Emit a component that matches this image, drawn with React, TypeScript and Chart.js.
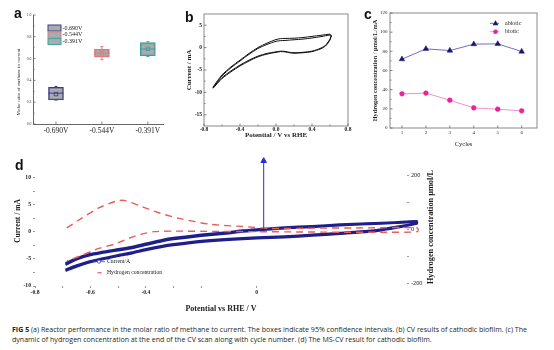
import React, { useEffect, useRef } from 'react';
import { Chart, registerables } from 'chart.js';
Chart.register(...registerables);

const SERIF = '"Liberation Serif", "Times New Roman", serif';

// ---------- Panel a data ----------
const aCategories = ['-0.690V', '-0.544V', '-0.391V'];
const aBoxLow = [0.22, 0.613, 0.624];
const aBoxHigh = [0.337, 0.685, 0.746];
const aMedian = [0.283, 0.65, 0.688];
const aMean = [0.275, 0.65, 0.69];
const aWhiskerLow = [0.22, 0.59, 0.62];
const aWhiskerHigh = [0.345, 0.71, 0.755];
const aYTicks = [0, 0.2, 0.4, 0.6, 0.8, 1.0];
const aColors = ['#3b3b8e', '#e47878', '#36a3a0'];

// ---------- Panel b data (two CV cycles, forward and reverse scans) ----------
const bForwardPotential = [-0.7, -0.65, -0.6, -0.5, -0.4, -0.3, -0.2, -0.1, 0.0, 0.05, 0.1, 0.2, 0.3, 0.4, 0.5, 0.6, 0.615];
const bForwardCurrent1 = [-8.8, -7.4, -6.1, -4.3, -2.8, -1.3, 0.0, 1.0, 1.8, 2.0, 2.05, 2.1, 2.25, 2.5, 2.75, 3.0, 2.8];
const bForwardCurrent2 = [-9.0, -7.6, -6.3, -4.5, -3.0, -1.5, -0.2, 0.7, 1.4, 1.55, 1.6, 1.75, 1.9, 2.15, 2.45, 2.8, 2.6];
const bReversePotential = [0.615, 0.6, 0.57, 0.55, 0.5, 0.45, 0.4, 0.3, 0.2, 0.15, 0.1, 0.05, 0.0, -0.1, -0.2, -0.3, -0.4, -0.5, -0.6, -0.7];
const bReverseCurrent1 = [2.8, 1.9, 1.0, 0.5, -0.1, -0.5, -0.8, -1.05, -1.15, -1.05, -0.85, -0.8, -0.95, -1.3, -1.9, -2.8, -3.9, -5.2, -6.7, -8.9];
const bReverseCurrent2 = [2.6, 1.7, 0.8, 0.35, -0.25, -0.6, -0.9, -1.15, -1.25, -1.15, -0.95, -0.9, -1.05, -1.45, -2.05, -3.0, -4.1, -5.4, -6.9, -9.1];
const bXTicks = [-0.8, -0.4, 0, 0.4, 0.8];
const bYTicks = [-15, -10, -5, 0, 5];

// ---------- Panel c data ----------
const cCycles = [1, 2, 3, 4, 5, 6];
const cAbiotic = [71.8, 82.6, 80.8, 87.5, 87.8, 79.8];
const cBiotic = [35.7, 36.4, 29.0, 21.0, 19.6, 17.9];
const cYTicks = [0, 20, 40, 60, 80, 100, 120];

// ---------- Panel d data ----------
const dCurrentPotential = [-0.69, -0.65, -0.6, -0.5, -0.45, -0.4, -0.34, -0.3, -0.2, -0.1, -0.05, 0.0, 0.1, 0.2, 0.3, 0.4, 0.5, 0.577,
  0.577, 0.5, 0.45, 0.4, 0.3, 0.2, 0.1, 0.0, -0.1, -0.2, -0.3, -0.34, -0.4, -0.45, -0.5, -0.6, -0.65, -0.69];
const dCurrent1 = [-5.8, -4.9, -4.1, -3.2, -2.8, -2.2, -1.5, -1.15, -0.55, -0.05, 0.25, 0.45, 0.8, 1.05, 1.35, 1.55, 1.75, 1.95,
  1.6, 0.9, 0.45, 0.15, -0.2, -0.55, -0.85, -1.05, -1.3, -1.7, -2.3, -2.6, -3.2, -3.8, -4.3, -5.4, -6.2, -7.0];
const dCurrent2 = [-6.1, -5.1, -4.3, -3.4, -3.0, -2.4, -1.7, -1.35, -0.75, -0.25, 0.05, 0.3, 0.65, 0.9, 1.2, 1.45, 1.65, 1.85,
  1.5, 0.75, 0.3, 0.0, -0.35, -0.7, -1.0, -1.2, -1.45, -1.85, -2.45, -2.75, -3.35, -3.95, -4.45, -5.6, -6.4, -7.2];
const dH2Potential = [-0.685, -0.63, -0.57, -0.51, -0.48, -0.42, -0.36, -0.28, -0.165, -0.05, 0.05, 0.2, 0.4, 0.58,
  0.58, 0.45, 0.3, 0.15, 0.0, -0.15, -0.3, -0.37, -0.42, -0.45, -0.51, -0.57, -0.63, -0.685];
const dH2Conc = [6, 43, 80, 104, 108, 87, 64, 41, 19, 11, 4, 5, 6, 6,
  -8, -10, -10, -9, -8, -7, -6, -8, -18, -28, -53, -70, -95, -116];
const dArrowPotential = [0.025, 0.025];
const dArrowCurrent = [0.55, 13.1];
const dXTicks = [-0.8, -0.7, -0.6, -0.5, -0.4, -0.3, -0.2, 0];
const dXLabeled = [-0.8, -0.6, -0.4, 0];
const dYTicks = [-10, -7.5, -5, -2.5, 0, 2.5, 5, 7.5, 10];
const dY2Ticks = [-200, -100, 0, 100, 200];
const dY2Labeled = [-200, 0, 200];

// ---------- helper plugins ----------
function textPlugin(id: string, items: any[]) {
  return {
    id,
    afterDraw(chart: any) {
      const ctx = chart.ctx;
      items.forEach((t) => {
        ctx.save();
        ctx.translate(t.x, t.y);
        if (t.rot) ctx.rotate(t.rot);
        ctx.font = t.font;
        ctx.fillStyle = t.color || '#1a1a1a';
        ctx.textAlign = t.align || 'center';
        ctx.textBaseline = 'middle';
        ctx.fillText(t.text, 0, 0);
        ctx.restore();
      });
    },
  };
}

function innerTicks(axes: any[], color = '#666') {
  return {
    id: 'innerTicks',
    afterDraw(chart: any) {
      const { ctx, chartArea: a } = chart;
      ctx.save();
      ctx.strokeStyle = color;
      ctx.lineWidth = 0.8;
      axes.forEach((cfg) => {
        const s = chart.scales[cfg.id];
        const vals = s.ticks.map((t: any) => t.value);
        const marks: number[][] = [];
        vals.forEach((v: number, i: number) => {
          marks.push([v, cfg.len]);
          if (cfg.minor && i < vals.length - 1) marks.push([(v + vals[i + 1]) / 2, cfg.len * 0.6]);
        });
        marks.forEach(([v, len]) => {
          const p = s.getPixelForValue(v);
          ctx.beginPath();
          if (s.isHorizontal()) {
            ctx.moveTo(p, a.bottom);
            ctx.lineTo(p, a.bottom - len);
          } else {
            ctx.moveTo(a.left, p);
            ctx.lineTo(a.left + len, p);
          }
          ctx.stroke();
        });
      });
      ctx.restore();
    },
  };
}

function frame(color: string) {
  return {
    id: 'frame',
    afterDraw(chart: any) {
      const { ctx, chartArea: a } = chart;
      ctx.save();
      ctx.strokeStyle = color;
      ctx.lineWidth = 1;
      ctx.strokeRect(a.left, a.top, a.right - a.left, a.bottom - a.top);
      ctx.restore();
    },
  };
}

const noGrid = { drawOnChartArea: false, drawTicks: false, offset: false };

// ---------- Panel a ----------
function configA(): any {
  const extras = {
    id: 'boxExtras',
    afterDatasetsDraw(chart: any) {
      const { ctx, scales } = chart;
      const x = scales.x, y = scales.y;
      ctx.save();
      aCategories.forEach((_, i) => {
        const cx = x.getPixelForValue(i);
        const half = 7.5;
        ctx.strokeStyle = aColors[i];
        ctx.lineWidth = 1;
        const ym = y.getPixelForValue(aMedian[i]);
        ctx.beginPath();
        ctx.moveTo(cx - half, ym);
        ctx.lineTo(cx + half, ym);
        ctx.stroke();
        const yh = y.getPixelForValue(aBoxHigh[i]);
        const ywh = y.getPixelForValue(aWhiskerHigh[i]);
        const yl = y.getPixelForValue(aBoxLow[i]);
        const ywl = y.getPixelForValue(aWhiskerLow[i]);
        ctx.beginPath();
        ctx.moveTo(cx, yh); ctx.lineTo(cx, ywh);
        ctx.moveTo(cx - 1.5, ywh); ctx.lineTo(cx + 1.5, ywh);
        ctx.moveTo(cx, yl); ctx.lineTo(cx, ywl);
        ctx.moveTo(cx - 1.5, ywl); ctx.lineTo(cx + 1.5, ywl);
        ctx.stroke();
        const yme = y.getPixelForValue(aMean[i]);
        ctx.lineWidth = 0.8;
        ctx.strokeRect(cx - 1.8, yme - 1.8, 3.6, 3.6);
      });
      ctx.restore();
    },
  };
  const legend = {
    id: 'aLegend',
    afterDraw(chart: any) {
      const { ctx, chartArea: a } = chart;
      ctx.save();
      aCategories.forEach((c, i) => {
        const x = a.left + 15, y = a.top + 10 + i * 6.8;
        ctx.fillStyle = 'rgba(150,150,150,0.8)';
        ctx.fillRect(x, y, 13, 6);
        ctx.strokeStyle = aColors[i];
        ctx.lineWidth = 1;
        ctx.strokeRect(x, y, 13, 6);
        ctx.font = `6px ${SERIF}`;
        ctx.fillStyle = '#222';
        ctx.textAlign = 'left';
        ctx.textBaseline = 'middle';
        ctx.fillText(c, x + 14.5, y + 3);
      });
      ctx.restore();
    },
  };
  return {
    type: 'bar',
    data: {
      datasets: [{
        data: aCategories.map((_, i) => ({ x: i, y: [aBoxLow[i], aBoxHigh[i]] })),
        backgroundColor: 'rgba(150,150,150,0.8)',
        borderColor: aColors,
        borderWidth: 1.2,
        borderSkipped: false,
        barThickness: 15,
      }],
    },
    options: {
      animation: false,
      responsive: false,
      layout: { padding: { top: 10, right: 12, bottom: 0, left: 0 } },
      plugins: { legend: { display: false }, tooltip: { enabled: false } },
      scales: {
        x: {
          type: 'linear', offset: false, min: -0.5, max: 2.33,
          afterBuildTicks: (s: any) => { s.ticks = aCategories.map((_, i) => ({ value: i })); },
          afterFit: (s: any) => { s.height = 31; },
          ticks: { callback: (v: any) => aCategories[Math.round(v)], font: { family: SERIF, size: 7.5 }, color: '#222', padding: 3, maxRotation: 0, autoSkip: false },
          grid: noGrid,
          border: { display: true, color: '#666', width: 1 },
        },
        y: {
          min: 0, max: 1,
          afterBuildTicks: (s: any) => { s.ticks = aYTicks.map((v) => ({ value: v })); },
          afterFit: (s: any) => { s.width = 33; },
          ticks: { callback: (v: any) => Number(v).toFixed(1), font: { family: SERIF, size: 3.8 }, color: '#333', padding: 1.5 },
          grid: noGrid,
          border: { display: true, color: '#666', width: 1 },
        },
      },
    },
    plugins: [
      extras, legend,
      innerTicks([{ id: 'x', len: 2.5 }, { id: 'y', len: 2.5, minor: true }]),
      textPlugin('aTitle', [{ text: 'Molar ratio of methane to current', x: 19, y: 77, rot: -Math.PI / 2, font: `5px ${SERIF}` }]),
    ],
  };
}

// ---------- Panel b ----------
function configB(): any {
  const scans = [
    [bForwardPotential, bForwardCurrent1],
    [bForwardPotential, bForwardCurrent2],
    [bReversePotential, bReverseCurrent1],
    [bReversePotential, bReverseCurrent2],
  ];
  return {
    type: 'scatter',
    data: {
      datasets: scans.map(([pv, cur]) => ({
        data: pv.map((v, i) => ({ x: v, y: cur[i] })),
        showLine: true, borderColor: '#111', borderWidth: 1, pointRadius: 0, tension: 0.25,
      })),
    },
    options: {
      animation: false,
      responsive: false,
      layout: { padding: { top: 10, right: 10, bottom: 0, left: 0 } },
      plugins: { legend: { display: false }, tooltip: { enabled: false } },
      scales: {
        x: {
          min: -0.8, max: 0.8,
          afterBuildTicks: (s: any) => { s.ticks = bXTicks.map((v) => ({ value: v })); },
          afterFit: (s: any) => { s.height = 23; },
          ticks: { callback: (v: any) => Number(v).toFixed(1), font: { family: SERIF, size: 5.5, weight: 'bold' }, color: '#222', padding: 0.5, maxRotation: 0, autoSkip: false },
          grid: noGrid, border: { display: false },
          title: { display: true, text: 'Potential / V vs RHE', font: { family: SERIF, size: 7, weight: 'bold' }, color: '#222', padding: { top: 0, bottom: 9.3 } },
        },
        y: {
          min: -17.5, max: 7.5,
          afterBuildTicks: (s: any) => { s.ticks = bYTicks.map((v) => ({ value: v })); },
          afterFit: (s: any) => { s.width = 24; },
          ticks: { font: { family: SERIF, size: 5.5, weight: 'bold' }, color: '#222', padding: 2 },
          grid: noGrid, border: { display: false },
          title: { display: true, text: 'Current / mA', font: { family: SERIF, size: 7, weight: 'bold' }, color: '#222', padding: { top: 4.8, bottom: 0 } },
        },
      },
    },
    plugins: [frame('#8a8a8a'), innerTicks([{ id: 'x', len: 2.5, minor: true }, { id: 'y', len: 2.5, minor: true }])],
  };
}

// ---------- Panel c ----------
function configC(): any {
  const legend = {
    id: 'cLegend',
    afterDraw(chart: any) {
      const { ctx, chartArea: a } = chart;
      ctx.save();
      const rows = [
        { label: 'abiotic', line: '#6f6fbd', fill: '#17176e', tri: true, dy: 10.3 },
        { label: 'biotic', line: '#f290c8', fill: '#e8239c', tri: false, dy: 18.7 },
      ];
      rows.forEach((r) => {
        const y = a.top + r.dy;
        const x0 = a.left + 100;
        ctx.strokeStyle = r.line; ctx.lineWidth = 1;
        ctx.beginPath(); ctx.moveTo(x0, y); ctx.lineTo(x0 + 9, y); ctx.stroke();
        ctx.fillStyle = r.fill;
        ctx.beginPath();
        const mx = x0 + 5.5;
        if (r.tri) { ctx.moveTo(mx, y - 3); ctx.lineTo(mx + 2.8, y + 2); ctx.lineTo(mx - 2.8, y + 2); ctx.closePath(); }
        else { ctx.arc(mx, y, 2.3, 0, Math.PI * 2); }
        ctx.fill();
        ctx.font = `6px ${SERIF}`;
        ctx.fillStyle = '#222';
        ctx.textAlign = 'left'; ctx.textBaseline = 'middle';
        ctx.fillText(r.label, x0 + 15, y);
      });
      ctx.restore();
    },
  };
  return {
    type: 'scatter',
    data: {
      datasets: [
        {
          data: cCycles.map((c, i) => ({ x: c, y: cAbiotic[i] })), showLine: true,
          borderColor: '#6f6fbd', borderWidth: 1, pointStyle: 'triangle', pointRadius: 3.2,
          pointBackgroundColor: '#17176e', pointBorderColor: '#17176e', pointBorderWidth: 0.5,
        },
        {
          data: cCycles.map((c, i) => ({ x: c, y: cBiotic[i] })), showLine: true,
          borderColor: '#f290c8', borderWidth: 1, pointStyle: 'circle', pointRadius: 2.4,
          pointBackgroundColor: '#e8239c', pointBorderColor: '#e8239c', pointBorderWidth: 0.5,
        },
      ],
    },
    options: {
      animation: false,
      responsive: false,
      layout: { padding: { top: 10, right: 12, bottom: 0, left: 0 } },
      plugins: { legend: { display: false }, tooltip: { enabled: false } },
      scales: {
        x: {
          min: 0.5, max: 6.64,
          afterBuildTicks: (s: any) => { s.ticks = cCycles.map((v) => ({ value: v })); },
          afterFit: (s: any) => { s.height = 27; },
          ticks: { font: { family: SERIF, size: 5 }, color: '#222', padding: 1.5, maxRotation: 0, autoSkip: false },
          grid: noGrid, border: { display: false },
          title: { display: true, text: 'Cycles', font: { family: SERIF, size: 6.5 }, color: '#222', padding: { top: 0, bottom: 7.1 } },
        },
        y: {
          min: 0, max: 120,
          afterBuildTicks: (s: any) => { s.ticks = cYTicks.map((v) => ({ value: v })); },
          afterFit: (s: any) => { s.width = 28; },
          ticks: { font: { family: SERIF, size: 5 }, color: '#222', padding: 2.5 },
          grid: noGrid, border: { display: false },
          title: { display: true, text: 'Hydrogen concentration / μmol/L/mA', font: { family: SERIF, size: 6.3, weight: 'bold' }, color: '#222', padding: { top: 9.2, bottom: 0 } },
        },
      },
    },
    plugins: [legend, frame('#8a8a8a'), innerTicks([{ id: 'x', len: 2.5 }, { id: 'y', len: 2.5, minor: true }])],
  };
}

// ---------- Panel d ----------
function configD(): any {
  const legend = {
    id: 'dLegend',
    afterDraw(chart: any) {
      const ctx = chart.ctx;
      ctx.save();
      const y1 = 111.7, y2 = 122.7;
      ctx.strokeStyle = '#4a4ab0'; ctx.lineWidth = 0.8;
      ctx.beginPath(); ctx.moveTo(93, y1); ctx.lineTo(105, y1); ctx.stroke();
      ctx.beginPath(); ctx.arc(99, y1, 1.6, 0, Math.PI * 2); ctx.fillStyle = '#fff'; ctx.fill(); ctx.stroke();
      ctx.strokeStyle = '#e85c5c'; ctx.lineWidth = 1.2;
      ctx.beginPath(); ctx.moveTo(97.5, y2); ctx.lineTo(101.5, y2); ctx.stroke();
      ctx.font = `5.7px ${SERIF}`;
      ctx.fillStyle = '#222';
      ctx.textAlign = 'left'; ctx.textBaseline = 'middle';
      ctx.fillText('Current/A', 107, y1);
      ctx.fillText('Hydrogen concentration', 107, y2);
      ctx.restore();
    },
  };
  const tickGrid = { drawOnChartArea: false, drawTicks: true, tickLength: 2, color: '#999', offset: false };
  return {
    type: 'scatter',
    data: {
      datasets: [
        {
          data: dArrowPotential.map((v, i) => ({ x: v, y: dArrowCurrent[i] })), showLine: true,
          borderColor: '#2b2bd6', borderWidth: 1, pointRadius: [0, 3.2], pointStyle: 'triangle',
          pointBackgroundColor: '#2b2bd6', pointBorderColor: '#2b2bd6', clip: false, yAxisID: 'y',
        },
        {
          data: dH2Potential.map((v, i) => ({ x: v, y: dH2Conc[i] })), showLine: true,
          borderColor: '#e85c5c', borderWidth: 1.4, borderDash: [7, 5], pointRadius: 0, tension: 0.25,
          clip: false, yAxisID: 'y2',
        },
        ...[dCurrent1, dCurrent2].map((arr) => ({
          data: dCurrentPotential.map((v, i) => ({ x: v, y: arr[i] })), showLine: true,
          borderColor: '#1f1f8c', borderWidth: 2.4, pointRadius: 0, tension: 0.2, clip: false, yAxisID: 'y',
        })),
      ],
    },
    options: {
      animation: false,
      responsive: false,
      layout: { padding: { top: 6, right: 0, bottom: 0, left: 0 } },
      plugins: { legend: { display: false }, tooltip: { enabled: false } },
      scales: {
        x: {
          min: -0.8, max: 0.542,
          afterBuildTicks: (s: any) => { s.ticks = dXTicks.map((v) => ({ value: v })); },
          afterFit: (s: any) => { s.height = 34; },
          ticks: {
            callback: (v: any) => (dXLabeled.includes(v) ? (v === 0 ? '0' : Number(v).toFixed(1)) : ''),
            font: { family: SERIF, size: 5.7, weight: 'bold' }, color: '#222', padding: 1, maxRotation: 0, autoSkip: false,
          },
          grid: tickGrid, border: { display: false },
          title: { display: true, text: 'Potential vs RHE / V', font: { family: SERIF, size: 8, weight: 'bold' }, color: '#222', padding: { top: 0, bottom: 6.2 } },
        },
        y: {
          position: 'left', min: -10, max: 14,
          afterBuildTicks: (s: any) => { s.ticks = dYTicks.map((v) => ({ value: v })); },
          afterFit: (s: any) => { s.width = 35; },
          ticks: { callback: (v: any) => (v % 5 === 0 ? String(v) : ''), font: { family: SERIF, size: 5.7, weight: 'bold' }, color: '#222', padding: 2 },
          grid: tickGrid, border: { display: false },
          title: { display: true, text: 'Current / mA', font: { family: SERIF, size: 7.5, weight: 'bold' }, color: '#222', padding: { top: 13.5, bottom: 0 } },
        },
        y2: {
          position: 'right', min: -209, max: 272,
          afterBuildTicks: (s: any) => { s.ticks = dY2Ticks.map((v) => ({ value: v })); },
          afterFit: (s: any) => { s.width = 38; },
          ticks: { callback: (v: any) => (dY2Labeled.includes(v) ? String(v) : ''), font: { family: SERIF, size: 6.2 }, color: '#222', padding: 2 },
          grid: tickGrid, border: { display: false },
        },
      },
    },
    plugins: [
      legend,
      textPlugin('dRightTitle', [{ text: 'Hydrogen concentration μmol/L', x: 430.7, y: 77, rot: -Math.PI / 2, font: `bold 8.3px ${SERIF}` }]),
    ],
  };
}

const letter = (left: number, top: number): React.CSSProperties => ({
  position: 'absolute', left, top, fontFamily: '"Liberation Sans", Arial, sans-serif', fontWeight: 'bold',
  fontSize: 14, lineHeight: '14px', color: '#111',
});

export default function App() {
  const ra = useRef<HTMLCanvasElement>(null);
  const rb = useRef<HTMLCanvasElement>(null);
  const rc = useRef<HTMLCanvasElement>(null);
  const rd = useRef<HTMLCanvasElement>(null);

  useEffect(() => {
    const charts: Chart[] = [];
    if (ra.current) charts.push(new Chart(ra.current, configA()));
    if (rb.current) charts.push(new Chart(rb.current, configB()));
    if (rc.current) charts.push(new Chart(rc.current, configC()));
    if (rd.current) charts.push(new Chart(rd.current, configD()));
    return () => charts.forEach((c) => c.destroy());
  }, []);

  return (
    <div style={{ position: 'absolute', left: 0, top: 0, width: 554, height: 350, background: '#fff', overflow: 'hidden' }}>
      <canvas ref={rd} width={445} height={170} style={{ position: 'absolute', left: 0, top: 150 }} />
      <canvas ref={ra} width={175} height={150} style={{ position: 'absolute', left: 0, top: 5 }} />
      <canvas ref={rb} width={178} height={145} style={{ position: 'absolute', left: 180, top: 4 }} />
      <canvas ref={rc} width={187} height={152} style={{ position: 'absolute', left: 362, top: 3 }} />
      <span style={letter(14, 6)}>a</span>
      <span style={letter(185, 10)}>b</span>
      <span style={letter(364, 6.5)}>c</span>
      <span style={letter(15, 158)}>d</span>
      <div style={{
        position: 'absolute', left: 12, top: 323.5, fontFamily: '"Open Sans", sans-serif', fontSize: 7.05,
        lineHeight: '10px', color: '#231f20', whiteSpace: 'nowrap',
      }}>
        <div><b>FIG 5</b> (a) Reactor performance in the molar ratio of methane to current. The boxes indicate 95% confidence intervals. (b) CV results of cathodic biofilm. (c) The</div>
        <div>dynamic of hydrogen concentration at the end of the CV scan along with cycle number. (d) The MS-CV result for cathodic biofilm.</div>
      </div>
    </div>
  );
}
